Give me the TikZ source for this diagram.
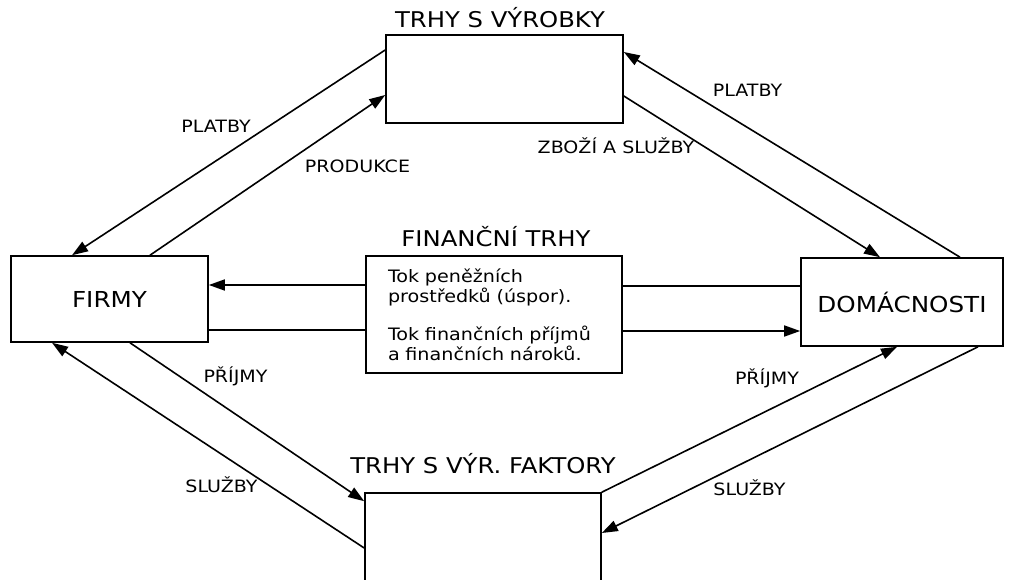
\documentclass[tikz,border=0pt]{standalone}
\usepackage{fontspec}
\setmainfont{DejaVu Sans}[FakeStretch=1.12]
\usetikzlibrary{arrows.meta}

\begin{document}
\begin{tikzpicture}[x=1pt,y=-1pt,
    box/.style={draw,line width=1.6pt,inner sep=0pt,font=\fontsize{22}{26}\selectfont},
    flow/.style={line width=1.6pt,-{Triangle[length=16pt,width=11pt]}},
    link/.style={line width=1.6pt},
    title/.style={anchor=base,font=\fontsize{21.7}{26}\selectfont},
    lbl/.style={anchor=base,font=\fontsize{17}{20}\selectfont}]

      \useasboundingbox (0,0) rectangle (1009,580);

      \node [box,minimum width=237pt,minimum height=88pt] (vyrobky) at (504.5,79) {};
      \node [title] (tvyrobky) at (500,28) {TRHY S VÝROBKY};

      \node [box,minimum width=197pt,minimum height=86pt] (firmy) at (109.5,299) {FIRMY};

      \node [box,minimum width=202pt,minimum height=88pt] (domac) at (902,302) {DOMÁCNOSTI};

      \node [box,minimum width=256pt,minimum height=117pt,text width=212pt,inner xsep=22pt,
             align=left,font=\fontsize{17.1}{20}\selectfont] (financni) at (494,314.5)
            {Tok peněžních\\prostředků (úspor).\\[18pt]Tok finančních příjmů\\a finančních nároků.};
      \node [title] (tfinancni) at (496,247) {FINANČNÍ TRHY};

      \node [box,minimum width=236pt,minimum height=100pt] (faktory) at (483,543) {};
      \node [title] (tfaktory) at (483,473) {TRHY S VÝR. FAKTORY};

      \draw [flow] ([yshift=29pt]vyrobky.west) to ([xshift=-37.5pt]firmy.north);
      \draw [flow] ([xshift=40.5pt]firmy.north) to ([yshift=-16pt]vyrobky.west);
      \node [lbl] (platby1) at (216,133) {PLATBY};
      \node [lbl] (produkce) at (357.5,173) {PRODUKCE};

      \draw [flow] ([xshift=58pt]domac.north) to ([yshift=27pt]vyrobky.east);
      \draw [flow] ([yshift=-17pt]vyrobky.east) to ([xshift=-22pt]domac.north);
      \node [lbl] (platby2) at (747.5,97) {PLATBY};
      \node [lbl] (zbozi) at (616,154) {ZBOŽÍ A SLUŽBY};

      \draw [flow] ([yshift=29.5pt]financni.west) to ([yshift=14pt]firmy.east);
      \draw [link] ([yshift=-31pt]firmy.east) to ([yshift=-15.5pt]financni.west);
      \draw [link] ([yshift=28.5pt]financni.east) to ([yshift=16pt]domac.west);
      \draw [flow] ([yshift=-16.5pt]financni.east) to ([yshift=-29pt]domac.west);

      \draw [flow] ([xshift=20.5pt]firmy.south) to ([yshift=-9pt]faktory.north west);
      \draw [flow] ([yshift=-5pt]faktory.west) to ([xshift=-57.5pt]firmy.south);
      \node [lbl] (prijmy1) at (235.5,382) {PŘÍJMY};
      \node [lbl] (sluzby1) at (221.5,492) {SLUŽBY};

      \draw [flow] (faktory.north east) to ([xshift=-5pt]domac.south);
      \draw [flow] ([xshift=76pt]domac.south) to ([yshift=10pt]faktory.east);
      \node [lbl] (prijmy2) at (767,384) {PŘÍJMY};
      \node [lbl] (sluzby2) at (749.5,495) {SLUŽBY};

    \end{tikzpicture}
\end{document}
